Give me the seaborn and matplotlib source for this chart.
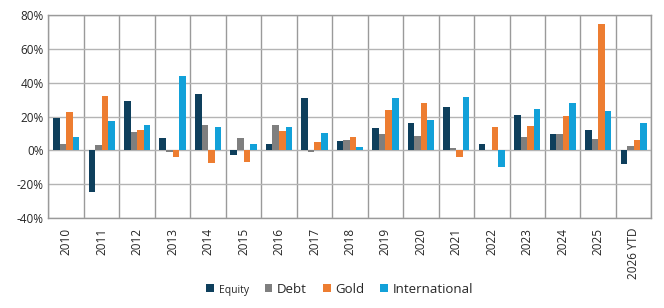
import matplotlib
matplotlib.use("Agg")
import matplotlib.pyplot as plt
import matplotlib.ticker as mticker
import seaborn as sns
import pandas as pd
import numpy as np

# annual returns (%)
years = ["2010", "2011", "2012", "2013", "2014", "2015", "2016", "2017", "2018",
         "2019", "2020", "2021", "2022", "2023", "2024", "2025", "2026 YTD"]
equity = [19.1, -24.4, 29.2, 7.3, 33.1, -3.0, 3.9, 30.9, 5.7,
          13.4, 16.4, 25.6, 3.9, 21.1, 9.9, 12.2, -8.3]
debt = [3.7, 3.2, 10.8, -1.2, 15.0, 7.5, 15.0, -0.8, 6.3,
        9.9, 8.7, 1.6, 0.2, 8.1, 9.9, 6.7, 2.4]
gold = [23.0, 32.0, 12.0, -4.1, -7.7, -6.7, 11.6, 5.1, 7.7,
        24.0, 28.0, -4.1, 14.0, 14.6, 20.3, 75.0, 6.3]
intl = [8.0, 17.3, 15.0, 44.0, 13.8, 3.9, 14.0, 10.4, 2.2,
        30.9, 18.1, 31.5, -10.0, 24.6, 28.0, 23.3, 16.2]

series = ["Equity", "Debt", "Gold", "International"]
colors = ["#0E3F5C", "#7F7F7F", "#ED7D31", "#12A1D9"]

df = pd.DataFrame({"Year": years, "Equity": equity, "Debt": debt,
                   "Gold": gold, "International": intl})
long = df.melt(id_vars="Year", var_name="Asset", value_name="Return")

sns.set_style("white")
plt.rcParams["font.family"] = ["Open Sans", "DejaVu Sans"]

fig, ax = plt.subplots(figsize=(6.64, 3.08), dpi=100)
fig.subplots_adjust(left=0.073, right=0.981, top=0.951, bottom=0.292)

sns.barplot(data=long, x="Year", y="Return", hue="Asset", hue_order=series,
            palette=colors, saturation=1, width=0.74, gap=0, ax=ax,
            edgecolor="none", linewidth=0, zorder=3)

ax.set_ylim(-40, 80)
ax.set_yticks(np.arange(-40, 81, 20))
ax.yaxis.set_major_formatter(mticker.FuncFormatter(lambda v, p: f"{v:.0f}%"))
ax.set_xlim(-0.5, len(years) - 0.5)
ax.set_xticks(np.arange(len(years)))
ax.set_xticklabels(years, rotation=90)
ax.set_xticks(np.arange(len(years) + 1) - 0.5, minor=True)
ax.tick_params(axis="x", which="both", length=0, labelsize=8.5, pad=7)
ax.tick_params(axis="y", length=0, labelsize=8.5)

ax.grid(axis="y", color="#B4B4B4", linewidth=1.0, zorder=0)
ax.grid(axis="x", which="minor", color="#9A9A9A", linewidth=1.0, zorder=0)
ax.grid(axis="x", which="major", visible=False)
ax.set_axisbelow(True)
for s in ax.spines.values():
    s.set_color("#9A9A9A")
    s.set_linewidth(1.0)

ax.set_xlabel("")
ax.set_ylabel("")

leg = ax.legend(loc="center", bbox_to_anchor=(0.483, -0.35), ncol=4,
                frameon=False, fontsize=9.5, handlelength=0.6, handleheight=0.6,
                handletextpad=0.35, columnspacing=1.2)
leg.get_texts()[0].set_fontsize(7.5)

fig.savefig("out.png", dpi=100)
